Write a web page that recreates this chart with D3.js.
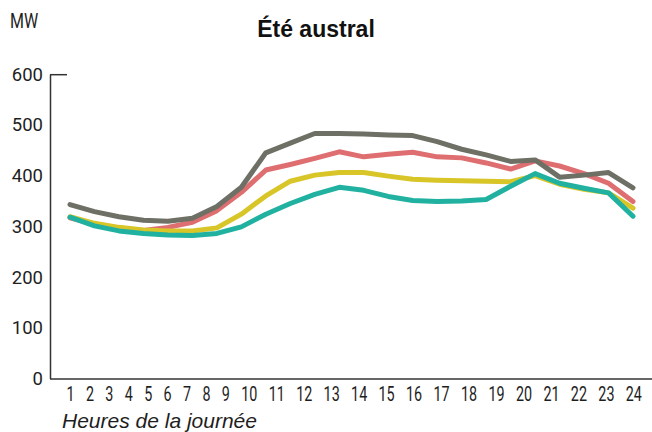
<!DOCTYPE html>
<html>
<head>
<meta charset="utf-8">
<script src="https://cdn.jsdelivr.net/npm/d3@7"></script>
<style>
  html, body { margin: 0; padding: 0; background: #ffffff; }
  svg { display: block; }
</style>
</head>
<body>
<div id="chart"></div>
<script>
// ---- Data ----
const title = "Été austral";
const unitLabel = "MW";
const xTitle = "Heures de la journée";
const hours = [1,2,3,4,5,6,7,8,9,10,11,12,13,14,15,16,17,18,19,20,21,22,23,24];
const xTickLabels = ["1","2","3","4","5","6","7","8","9","10","11","12","13","14","15","16","17","18","19","20","21","22","23","24"];
const yTicks = [0,100,200,300,400,500,600];

const seriesNames = ["gris", "rouge", "jaune", "turquoise"];
const seriesColors = ["#6e7066", "#de6e70", "#d8c528", "#21b1a1"];
const greySeries   = [344,330,320,313,311,317,340,378,446,465,484,484,483,481,480,468,453,442,429,432,398,402,407,377];
const redSeries    = [318,305,297,293,299,309,332,368,412,423,435,448,438,443,447,438,436,426,414,430,420,405,386,350];
const yellowSeries = [320,307,299,294,292,292,298,325,361,390,402,407,407,400,394,392,391,390,389,401,384,374,367,337];
const tealSeries   = [319,302,292,287,284,283,287,300,325,346,364,378,372,360,352,350,351,354,380,405,386,376,367,321];
const seriesValues = [greySeries, redSeries, yellowSeries, tealSeries];
// drawing order (bottom to top)
const drawOrder = [1, 0, 2, 3];

// ---- Layout ----
const W = 652, H = 432;
const svg = d3.select("#chart").append("svg")
  .attr("width", W).attr("height", H)
  .attr("viewBox", `0 0 ${W} ${H}`);

const x = d3.scaleLinear().domain([1, 24]).range([70, 633]);
const y = d3.scaleLinear().domain([0, 600]).range([379, 74.7]);

const axisColor = "#333333";
const textColor = "#1e1e1e";
const labelFont = "Roboto, 'Noto Sans', sans-serif";

// Title
svg.append("text")
  .attr("x", 316).attr("y", 37)
  .attr("text-anchor", "middle")
  .attr("font-family", "'Liberation Sans', Arial, Helvetica, sans-serif")
  .attr("font-weight", "bold")
  .attr("font-size", 23)
  .attr("fill", "#111")
  .text(title);

// Unit label
svg.append("text")
  .attr("x", 0).attr("y", 0)
  .attr("font-family", labelFont)
  .attr("font-size", 20)
  .attr("fill", textColor)
  .attr("transform", "translate(10,28) scale(0.8,1)")
  .text(unitLabel);

// Y axis labels via d3 axis
const yAxis = d3.axisLeft(y).tickValues(yTicks).tickSize(0).tickPadding(0)
  .tickFormat(d3.format("d"));
const yg = svg.append("g").attr("transform", "translate(43,0)").call(yAxis);
yg.select(".domain").remove();
yg.selectAll("text")
  .attr("font-family", labelFont)
  .attr("font-size", 18.5)
  .attr("fill", textColor)
  .attr("dy", "0.3em");

// Y axis line and top tick
svg.append("line")
  .attr("x1", 50.5).attr("x2", 50.5)
  .attr("y1", y(600)).attr("y2", y(0))
  .attr("stroke", axisColor).attr("stroke-width", 1.5);
svg.append("line")
  .attr("x1", 50).attr("x2", 67)
  .attr("y1", y(600)).attr("y2", y(600))
  .attr("stroke", axisColor).attr("stroke-width", 1.5);

// X axis line
svg.append("line")
  .attr("x1", 50).attr("x2", W)
  .attr("y1", y(0)).attr("y2", y(0))
  .attr("stroke", axisColor).attr("stroke-width", 1.5);

// X tick labels (typeset as a run of labels like the original)
const xlab = svg.append("text")
  .attr("transform", "translate(66.5,401) scale(0.7,1)")
  .attr("font-family", labelFont)
  .attr("font-size", 20.5)
  .attr("fill", textColor);
xlab.selectAll("tspan").data(xTickLabels).join("tspan")
  .attr("dx", (d, i) => i === 0 ? 0 : 16.2)
  .text(d => d);

// X title
svg.append("text")
  .attr("x", 62).attr("y", 428)
  .attr("font-family", "'Liberation Sans', Arial, Helvetica, sans-serif")
  .attr("font-style", "italic")
  .attr("font-size", 21)
  .attr("fill", textColor)
  .text(xTitle);

// Lines
const line = d3.line()
  .x((d, i) => x(hours[i]))
  .y(d => y(d))
  .curve(d3.curveLinear);

svg.append("g").selectAll("path")
  .data(drawOrder.map(k => ({name: seriesNames[k], color: seriesColors[k], values: seriesValues[k]})))
  .join("path")
  .attr("d", d => line(d.values))
  .attr("fill", "none")
  .attr("stroke", d => d.color)
  .attr("stroke-width", 5)
  .attr("stroke-linejoin", "round")
  .attr("stroke-linecap", "round");
</script>
</body>
</html>
